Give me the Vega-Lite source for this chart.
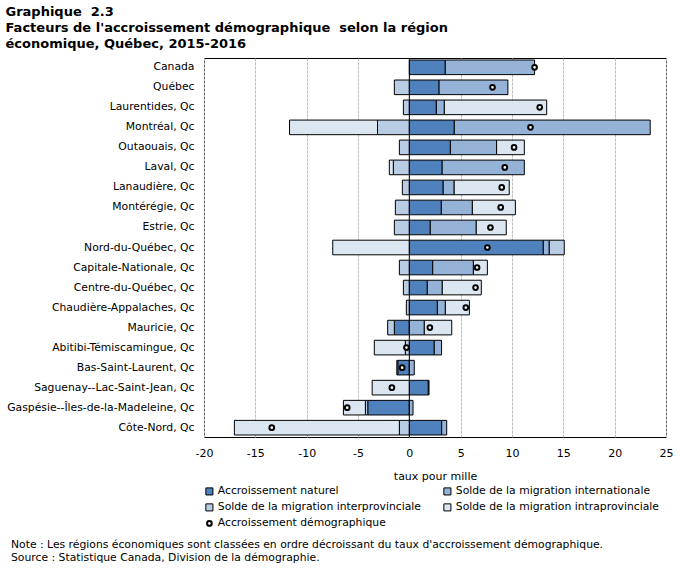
{
  "$schema": "https://vega.github.io/schema/vega-lite/v6.json",
  "padding": {"top": 6, "left": 5, "right": 5, "bottom": 5},
  "background": "white",
  "title": {
    "text": ["Graphique \u00a02.3", "Facteurs de l'accroissement démographique \u00a0selon la région", "économique, Québec, 2015-2016"],
    "anchor": "start",
    "frame": "bounds",
    "font": "DejaVu Sans",
    "fontSize": 13,
    "fontWeight": "bold",
    "lineHeight": 16,
    "color": "black",
    "offset": 6
  },
  "datasets": {
    "bars": [
      {"region": "Canada", "composante": "Accroissement naturel", "valeur": 3.5},
      {"region": "Canada", "composante": "Solde de la migration internationale", "valeur": 8.7},
      {"region": "Québec", "composante": "Accroissement naturel", "valeur": 2.9},
      {"region": "Québec", "composante": "Solde de la migration internationale", "valeur": 6.7},
      {"region": "Québec", "composante": "Solde de la migration interprovinciale", "valeur": -1.46},
      {"region": "Laurentides, Qc", "composante": "Accroissement naturel", "valeur": 2.63},
      {"region": "Laurentides, Qc", "composante": "Solde de la migration internationale", "valeur": 0.78},
      {"region": "Laurentides, Qc", "composante": "Solde de la migration interprovinciale", "valeur": -0.58},
      {"region": "Laurentides, Qc", "composante": "Solde de la migration intraprovinciale", "valeur": 9.97},
      {"region": "Montréal, Qc", "composante": "Accroissement naturel", "valeur": 4.38},
      {"region": "Montréal, Qc", "composante": "Solde de la migration internationale", "valeur": 19.08},
      {"region": "Montréal, Qc", "composante": "Solde de la migration interprovinciale", "valeur": -3.1},
      {"region": "Montréal, Qc", "composante": "Solde de la migration intraprovinciale", "valeur": -8.57},
      {"region": "Outaouais, Qc", "composante": "Accroissement naturel", "valeur": 4.0},
      {"region": "Outaouais, Qc", "composante": "Solde de la migration internationale", "valeur": 4.5},
      {"region": "Outaouais, Qc", "composante": "Solde de la migration interprovinciale", "valeur": -0.97},
      {"region": "Outaouais, Qc", "composante": "Solde de la migration intraprovinciale", "valeur": 2.7},
      {"region": "Laval, Qc", "composante": "Accroissement naturel", "valeur": 3.2},
      {"region": "Laval, Qc", "composante": "Solde de la migration internationale", "valeur": 8.0},
      {"region": "Laval, Qc", "composante": "Solde de la migration interprovinciale", "valeur": -1.56},
      {"region": "Laval, Qc", "composante": "Solde de la migration intraprovinciale", "valeur": -0.39},
      {"region": "Lanaudière, Qc", "composante": "Accroissement naturel", "valeur": 3.3},
      {"region": "Lanaudière, Qc", "composante": "Solde de la migration internationale", "valeur": 1.07},
      {"region": "Lanaudière, Qc", "composante": "Solde de la migration interprovinciale", "valeur": -0.68},
      {"region": "Lanaudière, Qc", "composante": "Solde de la migration intraprovinciale", "valeur": 5.36},
      {"region": "Montérégie, Qc", "composante": "Accroissement naturel", "valeur": 3.12},
      {"region": "Montérégie, Qc", "composante": "Solde de la migration internationale", "valeur": 3.02},
      {"region": "Montérégie, Qc", "composante": "Solde de la migration interprovinciale", "valeur": -1.36},
      {"region": "Montérégie, Qc", "composante": "Solde de la migration intraprovinciale", "valeur": 4.19},
      {"region": "Estrie, Qc", "composante": "Accroissement naturel", "valeur": 2.04},
      {"region": "Estrie, Qc", "composante": "Solde de la migration internationale", "valeur": 4.48},
      {"region": "Estrie, Qc", "composante": "Solde de la migration interprovinciale", "valeur": -1.46},
      {"region": "Estrie, Qc", "composante": "Solde de la migration intraprovinciale", "valeur": 2.92},
      {"region": "Nord-du-Québec, Qc", "composante": "Accroissement naturel", "valeur": 13.05},
      {"region": "Nord-du-Québec, Qc", "composante": "Solde de la migration internationale", "valeur": 0.58},
      {"region": "Nord-du-Québec, Qc", "composante": "Solde de la migration interprovinciale", "valeur": 1.46},
      {"region": "Nord-du-Québec, Qc", "composante": "Solde de la migration intraprovinciale", "valeur": -7.46},
      {"region": "Capitale-Nationale, Qc", "composante": "Accroissement naturel", "valeur": 2.28},
      {"region": "Capitale-Nationale, Qc", "composante": "Solde de la migration internationale", "valeur": 3.96},
      {"region": "Capitale-Nationale, Qc", "composante": "Solde de la migration interprovinciale", "valeur": -0.97},
      {"region": "Capitale-Nationale, Qc", "composante": "Solde de la migration intraprovinciale", "valeur": 1.36},
      {"region": "Centre-du-Québec, Qc", "composante": "Accroissement naturel", "valeur": 1.75},
      {"region": "Centre-du-Québec, Qc", "composante": "Solde de la migration internationale", "valeur": 1.46},
      {"region": "Centre-du-Québec, Qc", "composante": "Solde de la migration interprovinciale", "valeur": -0.58},
      {"region": "Centre-du-Québec, Qc", "composante": "Solde de la migration intraprovinciale", "valeur": 3.8},
      {"region": "Chaudière-Appalaches, Qc", "composante": "Accroissement naturel", "valeur": 2.73},
      {"region": "Chaudière-Appalaches, Qc", "composante": "Solde de la migration internationale", "valeur": 0.78},
      {"region": "Chaudière-Appalaches, Qc", "composante": "Solde de la migration interprovinciale", "valeur": -0.29},
      {"region": "Chaudière-Appalaches, Qc", "composante": "Solde de la migration intraprovinciale", "valeur": 2.34},
      {"region": "Mauricie, Qc", "composante": "Accroissement naturel", "valeur": -1.46},
      {"region": "Mauricie, Qc", "composante": "Solde de la migration internationale", "valeur": 1.46},
      {"region": "Mauricie, Qc", "composante": "Solde de la migration interprovinciale", "valeur": -0.65},
      {"region": "Mauricie, Qc", "composante": "Solde de la migration intraprovinciale", "valeur": 2.67},
      {"region": "Abitibi-Témiscamingue, Qc", "composante": "Accroissement naturel", "valeur": 2.43},
      {"region": "Abitibi-Témiscamingue, Qc", "composante": "Solde de la migration internationale", "valeur": 0.71},
      {"region": "Abitibi-Témiscamingue, Qc", "composante": "Solde de la migration interprovinciale", "valeur": -0.39},
      {"region": "Abitibi-Témiscamingue, Qc", "composante": "Solde de la migration intraprovinciale", "valeur": -3.02},
      {"region": "Bas-Saint-Laurent, Qc", "composante": "Accroissement naturel", "valeur": -1.12},
      {"region": "Bas-Saint-Laurent, Qc", "composante": "Solde de la migration internationale", "valeur": 0.48},
      {"region": "Bas-Saint-Laurent, Qc", "composante": "Solde de la migration interprovinciale", "valeur": -0.1},
      {"region": "Saguenay--Lac-Saint-Jean, Qc", "composante": "Accroissement naturel", "valeur": 1.85},
      {"region": "Saguenay--Lac-Saint-Jean, Qc", "composante": "Solde de la migration internationale", "valeur": 0.07},
      {"region": "Saguenay--Lac-Saint-Jean, Qc", "composante": "Solde de la migration intraprovinciale", "valeur": -3.62},
      {"region": "Gaspésie--Îles-de-la-Madeleine, Qc", "composante": "Accroissement naturel", "valeur": -4.05},
      {"region": "Gaspésie--Îles-de-la-Madeleine, Qc", "composante": "Solde de la migration internationale", "valeur": 0.36},
      {"region": "Gaspésie--Îles-de-la-Madeleine, Qc", "composante": "Solde de la migration interprovinciale", "valeur": -0.23},
      {"region": "Gaspésie--Îles-de-la-Madeleine, Qc", "composante": "Solde de la migration intraprovinciale", "valeur": -2.14},
      {"region": "Côte-Nord, Qc", "composante": "Accroissement naturel", "valeur": 3.15},
      {"region": "Côte-Nord, Qc", "composante": "Solde de la migration internationale", "valeur": 0.49},
      {"region": "Côte-Nord, Qc", "composante": "Solde de la migration interprovinciale", "valeur": -0.97},
      {"region": "Côte-Nord, Qc", "composante": "Solde de la migration intraprovinciale", "valeur": -16.07}
    ],
    "points": [
      {"region": "Canada", "composante": "Accroissement démographique", "total": 12.2},
      {"region": "Québec", "composante": "Accroissement démographique", "total": 8.1},
      {"region": "Laurentides, Qc", "composante": "Accroissement démographique", "total": 12.7},
      {"region": "Montréal, Qc", "composante": "Accroissement démographique", "total": 11.8},
      {"region": "Outaouais, Qc", "composante": "Accroissement démographique", "total": 10.2},
      {"region": "Laval, Qc", "composante": "Accroissement démographique", "total": 9.3},
      {"region": "Lanaudière, Qc", "composante": "Accroissement démographique", "total": 9.0},
      {"region": "Montérégie, Qc", "composante": "Accroissement démographique", "total": 8.9},
      {"region": "Estrie, Qc", "composante": "Accroissement démographique", "total": 7.9},
      {"region": "Nord-du-Québec, Qc", "composante": "Accroissement démographique", "total": 7.6},
      {"region": "Capitale-Nationale, Qc", "composante": "Accroissement démographique", "total": 6.6},
      {"region": "Centre-du-Québec, Qc", "composante": "Accroissement démographique", "total": 6.45},
      {"region": "Chaudière-Appalaches, Qc", "composante": "Accroissement démographique", "total": 5.5},
      {"region": "Mauricie, Qc", "composante": "Accroissement démographique", "total": 2.0},
      {"region": "Abitibi-Témiscamingue, Qc", "composante": "Accroissement démographique", "total": -0.28},
      {"region": "Bas-Saint-Laurent, Qc", "composante": "Accroissement démographique", "total": -0.7},
      {"region": "Saguenay--Lac-Saint-Jean, Qc", "composante": "Accroissement démographique", "total": -1.7},
      {"region": "Gaspésie--Îles-de-la-Madeleine, Qc", "composante": "Accroissement démographique", "total": -6.05},
      {"region": "Côte-Nord, Qc", "composante": "Accroissement démographique", "total": -13.4}
    ]
  },
  "vconcat": [
    {
      "width": 462,
      "height": 379,
      "title": {
        "text": ["Note : Les régions économiques sont classées en ordre décroissant du taux d'accroissement démographique.", "Source : Statistique Canada, Division de la démographie."],
        "orient": "bottom",
        "anchor": "start",
        "frame": "bounds",
        "dx": 5,
        "font": "DejaVu Sans",
        "fontSize": 10.8,
        "fontWeight": "normal",
        "lineHeight": 13,
        "color": "black",
        "offset": 58
      },
      "layer": [
        {
          "data": {"name": "bars"},
          "mark": {"type": "bar", "stroke": "black", "strokeWidth": 1},
          "encoding": {
            "y": {
              "field": "region",
              "type": "nominal",
              "sort": ["Canada", "Québec", "Laurentides, Qc", "Montréal, Qc", "Outaouais, Qc", "Laval, Qc", "Lanaudière, Qc", "Montérégie, Qc", "Estrie, Qc", "Nord-du-Québec, Qc", "Capitale-Nationale, Qc", "Centre-du-Québec, Qc", "Chaudière-Appalaches, Qc", "Mauricie, Qc", "Abitibi-Témiscamingue, Qc", "Bas-Saint-Laurent, Qc", "Saguenay--Lac-Saint-Jean, Qc", "Gaspésie--Îles-de-la-Madeleine, Qc", "Côte-Nord, Qc"],
              "scale": {"paddingInner": 0.27, "paddingOuter": 0.1},
              "axis": {"title": null, "ticks": false, "domain": false, "grid": false, "labelPadding": 10, "labelFontSize": 10.8, "labelFont": "DejaVu Sans", "labelColor": "black", "minExtent": 198, "maxExtent": 198, "labelLimit": 200}
            },
            "x": {
              "field": "valeur",
              "type": "quantitative",
              "stack": "zero",
              "scale": {"domain": [-20, 25], "nice": false},
              "axis": {"values": [-20, -15, -10, -5, 0, 5, 10, 15, 20, 25], "labelExpr": "'' + datum.value", "labelFlush": false, "ticks": false, "domain": false, "grid": true, "gridColor": "#bdbdbd", "gridDash": [3, 1], "labelPadding": 10, "labelFontSize": 11, "labelFont": "DejaVu Sans", "labelColor": "black", "title": "taux pour mille", "titleFont": "DejaVu Sans", "titleFontSize": 11, "titleFontWeight": "normal", "titleColor": "black", "titlePadding": 12}
            },
            "fill": {
              "field": "composante",
              "type": "nominal",
              "scale": {
                "domain": ["Accroissement naturel", "Solde de la migration internationale", "Solde de la migration interprovinciale", "Solde de la migration intraprovinciale", "Accroissement démographique"],
                "range": ["#4f81bd", "#95b3d7", "#b8cce4", "#dce6f1", "#ffffff"]
              },
              "legend": {
                "title": null, "orient": "none", "legendX": 0, "legendY": 428, "columns": 2, "direction": "horizontal", "columnPadding": 20, "rowPadding": 4,
                "symbolType": "square", "symbolSize": 50, "symbolStrokeColor": "black", "symbolStrokeWidth": 1, "symbolOpacity": 1,
                "labelFont": "DejaVu Sans", "labelFontSize": 10.8, "labelColor": "black", "labelOffset": 3, "labelLimit": 300,
                "encode": {"symbols": {"update": {
                  "shape": {"signal": "datum.value === 'Accroissement démographique' ? 'circle' : 'square'"},
                  "size": {"signal": "datum.value === 'Accroissement démographique' ? 22 : 50"},
                  "strokeWidth": {"signal": "datum.value === 'Accroissement démographique' ? 2 : 1"},
                  "stroke": {"value": "black"},
                  "opacity": {"value": 1}
                }}}
              }
            },
            "order": {"field": "composante", "sort": "ascending"}
          }
        },
        {
          "data": {"values": [{"zero": 0}]},
          "mark": {"type": "rule", "color": "black", "strokeWidth": 1},
          "encoding": {"x": {"field": "zero", "type": "quantitative"}}
        },
        {
          "data": {"name": "points"},
          "mark": {"type": "point", "shape": "circle", "filled": true, "stroke": "black", "strokeWidth": 2, "size": 22, "opacity": 1},
          "encoding": {
            "y": {"field": "region", "type": "nominal", "sort": ["Canada", "Québec", "Laurentides, Qc", "Montréal, Qc", "Outaouais, Qc", "Laval, Qc", "Lanaudière, Qc", "Montérégie, Qc", "Estrie, Qc", "Nord-du-Québec, Qc", "Capitale-Nationale, Qc", "Centre-du-Québec, Qc", "Chaudière-Appalaches, Qc", "Mauricie, Qc", "Abitibi-Témiscamingue, Qc", "Bas-Saint-Laurent, Qc", "Saguenay--Lac-Saint-Jean, Qc", "Gaspésie--Îles-de-la-Madeleine, Qc", "Côte-Nord, Qc"]},
            "x": {"field": "total", "type": "quantitative"},
            "fill": {"field": "composante", "type": "nominal"}
          }
        }
      ]
    }
  ],
  "config": {
    "view": {"stroke": "black", "strokeWidth": 1},
    "concat": {"spacing": 0}
  }
}
